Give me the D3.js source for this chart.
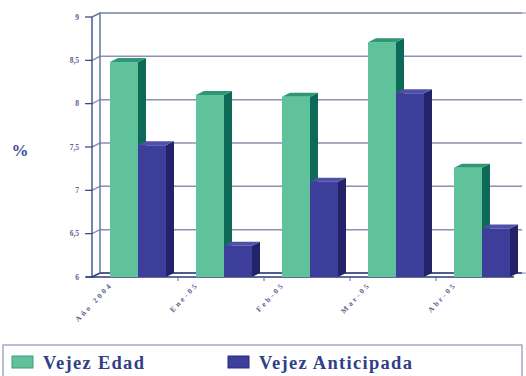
<!DOCTYPE html>
<html>
<head>
<meta charset="utf-8">
<script src="https://cdn.jsdelivr.net/npm/d3@7"></script>
<style>
  html, body { margin: 0; padding: 0; background: #fff; }
  svg { display: block; }
  text { font-family: "Liberation Serif", "Times New Roman", "DejaVu Serif", serif; }
</style>
</head>
<body>
<svg id="chart" width="526" height="376"></svg>
<script>
// Data
const categories = ["Año 2004", "Ene-05", "Feb-05", "Mar-05", "Abr-05"];
const seriesNames = ["Vejez Edad", "Vejez Anticipada"];
const vejezEdad = [8.48, 8.1, 8.08, 8.71, 7.26];
const vejezAnticipada = [7.52, 6.36, 7.1, 8.12, 6.56];
const yTicks = [6, 6.5, 7, 7.5, 8, 8.5, 9];

const seriesValues = [vejezEdad, vejezAnticipada];
const faceColors = [
  { front: "#5fc29a", side: "#0d6a58", top: "#2f9677" },
  { front: "#3d3d9a", side: "#23236a", top: "#5050aa" }
];

const svg = d3.select("#chart");
const depthX = 8, depthY = -4;

const x0 = d3.scaleBand().domain(categories).range([92, 522]);
const x1 = d3.scaleBand().domain(seriesNames).range([18, 74]);
const y = d3.scaleLinear().domain([6, 9]).range([277, 17]);
const base = y(6);

// Back wall and left wall
const wall = svg.append("g");
wall.append("rect")
  .attr("x", 92 + depthX).attr("y", y(9) + depthY)
  .attr("width", 522 - 92).attr("height", base - y(9))
  .attr("fill", "#ffffff").attr("stroke", "#7f8bb0").attr("stroke-width", 1);

// Gridlines: diagonal across the side wall, then across the back wall
yTicks.forEach(v => {
  const yy = y(v);
  wall.append("path")
    .attr("d", `M92,${yy}L${92 + depthX},${yy + depthY}L${522 + depthX - 8},${yy + depthY}`)
    .attr("fill", "none")
    .attr("stroke", v === 6 ? "#2b3a78" : "#8a93b4")
    .attr("stroke-width", 1.5);
});

// Left wall edges
wall.append("line").attr("x1", 92).attr("x2", 92).attr("y1", y(9)).attr("y2", base)
  .attr("stroke", "#2f3f80").attr("stroke-width", 1.3);
wall.append("line").attr("x1", 92 + depthX).attr("x2", 92 + depthX)
  .attr("y1", y(9) + depthY).attr("y2", base + depthY)
  .attr("stroke", "#5a6aa0").attr("stroke-width", 1);
wall.append("line").attr("x1", 92).attr("x2", 92 + depthX)
  .attr("y1", y(9)).attr("y2", y(9) + depthY)
  .attr("stroke", "#5a6aa0").attr("stroke-width", 1);

// Floor front edge
wall.append("line").attr("x1", 86).attr("x2", 514).attr("y1", base).attr("y2", base)
  .attr("stroke", "#2b3a78").attr("stroke-width", 1.5);

// Y axis ticks and labels
const yAxis = svg.append("g");
yTicks.forEach(v => {
  yAxis.append("line")
    .attr("x1", 85).attr("x2", 92).attr("y1", y(v)).attr("y2", y(v))
    .attr("stroke", "#2f3f80").attr("stroke-width", 1.2);
  yAxis.append("text")
    .attr("x", 79).attr("y", y(v) + 2.5)
    .attr("text-anchor", "end")
    .attr("font-size", 7.5)
    .attr("font-weight", "bold")
    .attr("fill", "#56618c")
    .text(String(v).replace(".", ","));
});

// X category ticks
categories.slice(1).forEach(c => {
  svg.append("line")
    .attr("x1", x0(c)).attr("x2", x0(c)).attr("y1", base).attr("y2", base + 4)
    .attr("stroke", "#5a6aa0").attr("stroke-width", 1);
});

// 3D bars
const bars = svg.append("g");
categories.forEach((c, i) => {
  seriesNames.forEach((s, k) => {
    const v = seriesValues[k][i];
    const xl = x0(c) + x1(s);
    const w = x1.bandwidth();
    const yt = y(v);
    const col = faceColors[k];
    // side face
    bars.append("path")
      .attr("d", `M${xl + w},${yt}L${xl + w + depthX},${yt + depthY}L${xl + w + depthX},${base + depthY}L${xl + w},${base}Z`)
      .attr("fill", col.side);
    // top face
    bars.append("path")
      .attr("d", `M${xl},${yt}L${xl + depthX},${yt + depthY}L${xl + w + depthX},${yt + depthY}L${xl + w},${yt}Z`)
      .attr("fill", col.top);
    // front face
    bars.append("rect")
      .attr("x", xl).attr("y", yt)
      .attr("width", w).attr("height", base - yt)
      .attr("fill", col.front);
  });
});

// X labels, rotated
categories.forEach(c => {
  const ax = x0(c) + 21, ay = 285;
  svg.append("text")
    .attr("transform", `translate(${ax},${ay}) rotate(-47)`)
    .attr("text-anchor", "end")
    .attr("font-size", 7.5)
    .attr("font-weight", "bold")
    .attr("letter-spacing", 2.6)
    .attr("fill", "#56618c")
    .text(c);
});

// Y axis title
svg.append("text")
  .attr("x", 20).attr("y", 156)
  .attr("text-anchor", "middle")
  .attr("font-size", 17)
  .attr("font-weight", "bold")
  .attr("fill", "#3d4f9a")
  .text("%");

// Legend
const legend = svg.append("g");
legend.append("rect")
  .attr("x", 3).attr("y", 345).attr("width", 519).attr("height", 40)
  .attr("fill", "#ffffff").attr("stroke", "#8d96b6").attr("stroke-width", 1.2);
const legendX = [12, 228];
seriesNames.forEach((s, k) => {
  legend.append("rect")
    .attr("x", legendX[k]).attr("y", 356).attr("width", 21).attr("height", 12)
    .attr("fill", faceColors[k].front)
    .attr("stroke", k === 0 ? "#3f9c78" : "#2a2a78").attr("stroke-width", 1);
  legend.append("text")
    .attr("x", legendX[k] + 31).attr("y", 369)
    .attr("font-size", 18.5)
    .attr("font-weight", "bold")
    .attr("letter-spacing", 1.3)
    .attr("fill", "#2f3f88")
    .text(s);
});
</script>
</body>
</html>
